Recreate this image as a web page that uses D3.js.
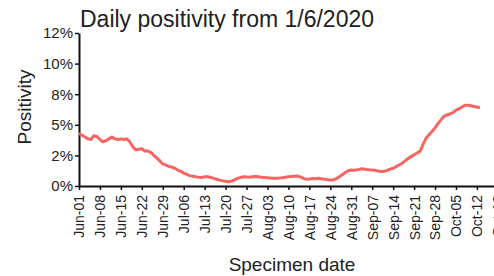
<!DOCTYPE html>
<meta charset="utf-8">

<!-- Load d3.js -->
<script src="https://d3js.org/d3.v7.min.js"></script>

<style>
  body {margin: 0; background: #fff;}
  svg {font-family: "Liberation Sans", Arial, sans-serif; display: block;}
</style>

<div id="my_dataviz"></div>

<script>

// daily positivity (%) from 1 June 2020
var startDate = "2020-06-01";
var positivity = [
  4.3, 4.15, 4.0, 3.85, 3.8, 4.1, 4.05, 3.8, 3.6, 3.7,
  3.85, 4.0, 3.85, 3.8, 3.85, 3.8, 3.85, 3.6, 3.2, 2.95,
  3.0, 3.05, 2.85, 2.85, 2.75, 2.5, 2.3, 2.05, 1.8, 1.7,
  1.6, 1.55, 1.45, 1.3, 1.2, 1.05, 0.95, 0.85, 0.8, 0.75,
  0.72, 0.7, 0.75, 0.76, 0.7, 0.62, 0.55, 0.48, 0.42, 0.38,
  0.35, 0.4, 0.5, 0.62, 0.7, 0.76, 0.74, 0.72, 0.75, 0.78,
  0.76, 0.72, 0.7, 0.68, 0.66, 0.64, 0.63, 0.65, 0.68, 0.72,
  0.75, 0.78, 0.8, 0.82, 0.75, 0.62, 0.55, 0.58, 0.62, 0.6,
  0.63, 0.6, 0.55, 0.52, 0.5, 0.5, 0.6, 0.76, 0.92, 1.1,
  1.25, 1.3, 1.28, 1.32, 1.38, 1.4, 1.35, 1.32, 1.3, 1.28,
  1.22, 1.18, 1.2, 1.28, 1.38, 1.45, 1.58, 1.72, 1.86, 2.05,
  2.25, 2.4, 2.55, 2.7, 2.85, 3.4, 3.9, 4.2, 4.45, 4.75,
  5.1, 5.4, 5.7, 5.8, 5.9, 6.0, 6.2, 6.3, 6.45, 6.6,
  6.6, 6.55, 6.5, 6.45, 6.4
];

// axis ticks
var yTickValues = [0, 2.5, 5, 7.5, 10, 12.5];
var yTickLabels = ["0%", "2%", "5%", "8%", "10%", "12%"];
var xTickDates = ["2020-06-01", "2020-06-08", "2020-06-15", "2020-06-22", "2020-06-29",
  "2020-07-06", "2020-07-13", "2020-07-20", "2020-07-27", "2020-08-03", "2020-08-10",
  "2020-08-17", "2020-08-24", "2020-08-31", "2020-09-07", "2020-09-14", "2020-09-21",
  "2020-09-28", "2020-10-05", "2020-10-12", "2020-10-19"];
var xTickLabels = ["Jun-01", "Jun-08", "Jun-15", "Jun-22", "Jun-29", "Jul-06", "Jul-13",
  "Jul-20", "Jul-27", "Aug-03", "Aug-10", "Aug-17", "Aug-24", "Aug-31", "Sep-07",
  "Sep-14", "Sep-21", "Sep-28", "Oct-05", "Oct-12", "Oct-19"];

var W = 494, H = 276;
var margin = {top: 33, left: 79, bottom: 90};
var plotBottom = H - margin.bottom + 0; // y of 0%

var parse = d3.utcParse("%Y-%m-%d");
var t0 = parse(startDate);

var data = positivity.map(function(v, i) {
  return {date: d3.utcDay.offset(t0, i), value: v};
});

var svg = d3.select("#my_dataviz")
  .append("svg")
    .attr("width", W)
    .attr("height", H);

// X scale: ~2.99 px per day, runs past the right edge
var x = d3.scaleUtc()
  .domain([t0, d3.utcDay.offset(t0, 146)])
  .range([margin.left, margin.left + 146 * 2.992]);

var y = d3.scaleLinear()
  .domain([0, 12.5])
  .range([186, margin.top]);

// Title
svg.append("text")
  .attr("x", 80)
  .attr("y", 27)
  .style("font-size", "23px")
  .style("fill", "#222")
  .text("Daily positivity from 1/6/2020");

// X axis
var xAxis = svg.append("g")
  .attr("transform", "translate(0," + y(0) + ")")
  .call(d3.axisBottom(x)
    .tickValues(xTickDates.map(parse))
    .tickSize(4)
    .tickSizeOuter(0)
    .tickFormat(function(d, i) { return xTickLabels[i]; }));
xAxis.select(".domain").attr("stroke", "#111").attr("stroke-width", 2);
xAxis.selectAll(".tick line").attr("stroke", "#111").attr("stroke-width", 1.5);
xAxis.selectAll("text")
  .attr("transform", "rotate(-90)")
  .attr("x", -9)
  .attr("y", 0)
  .attr("dy", "0.35em")
  .style("text-anchor", "end")
  .style("font-size", "14px")
  .style("fill", "#222");

// Y axis
var yAxis = svg.append("g")
  .attr("transform", "translate(" + margin.left + ",0)")
  .call(d3.axisLeft(y)
    .tickValues(yTickValues)
    .tickSize(4)
    .tickSizeOuter(0)
    .tickFormat(function(d, i) { return yTickLabels[i]; }));
yAxis.select(".domain").attr("stroke", "#111").attr("stroke-width", 2);
yAxis.selectAll(".tick line").attr("stroke", "#111").attr("stroke-width", 1.5);
yAxis.selectAll("text")
  .attr("x", -6)
  .style("font-size", "15px")
  .style("fill", "#222");

// Axis titles
svg.append("text")
  .attr("x", 292)
  .attr("y", 271)
  .style("text-anchor", "middle")
  .style("font-size", "19px")
  .style("fill", "#222")
  .text("Specimen date");

svg.append("text")
  .attr("transform", "translate(31,107) rotate(-90)")
  .style("text-anchor", "middle")
  .style("font-size", "19px")
  .style("fill", "#222")
  .text("Positivity");

// Line
svg.append("path")
  .datum(data)
  .attr("fill", "none")
  .attr("stroke", "#f76560")
  .attr("stroke-width", 3)
  .attr("stroke-linejoin", "round")
  .attr("d", d3.line()
    .x(function(d) { return x(d.date); })
    .y(function(d) { return y(d.value); }));

</script>
